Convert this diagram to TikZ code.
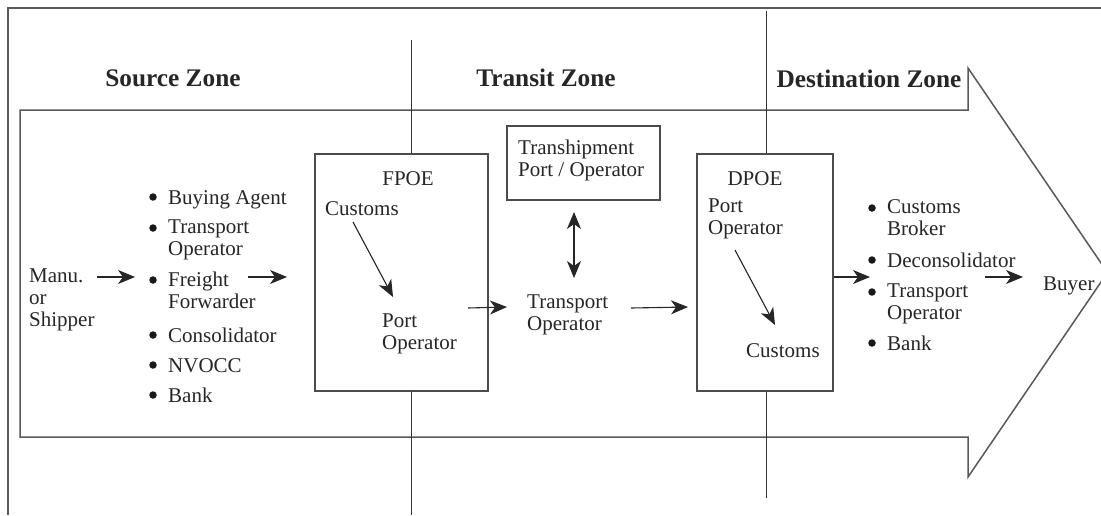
\documentclass[tikz,border=0pt]{standalone}
\usepackage{fontspec}
\setmainfont{Liberation Serif}
\usetikzlibrary{arrows.meta}
\newcommand\regsize{\fontsize{21}{22}\selectfont}
\newcommand\zonesize{\fontsize{25.3}{28}\selectfont\bfseries}
\begin{document}
\begin{tikzpicture}[x=1pt,y=-1pt,
  txt/.style={font=\regsize, inner sep=0pt, align=left, anchor=north west,
              execute at begin node=\strut, text=black!85},
  btxt/.style={font=\regsize, inner sep=0pt, anchor=base west, text=black!85},
  ctxt/.style={font=\regsize, inner sep=0pt, anchor=base, text=black!85},
  zone/.style={font=\zonesize, inner sep=0pt, anchor=base, text=black!85},
  box/.style={draw=black!70, line width=1.4pt, inner sep=0pt},
  frame/.style={draw=black!65, line width=1.5pt},
  zline/.style={draw=black!80, line width=1pt},
  bullet/.style={circle, fill=black!90, inner sep=0pt, minimum size=7.5pt},
  tip/.style={},
  arr/.style={-{Stealth[length=17pt,width=14pt,inset=5pt]}, line width=1.1pt, draw=black!85},
  darr/.style={{Stealth[length=17pt,width=14pt,inset=5pt]}-{Stealth[length=17pt,width=14pt,inset=5pt]}, line width=1.1pt, draw=black!85}]
\useasboundingbox (0,0) rectangle (1101,515);
\clip (0,0) rectangle (1101,515);
\fill[white] (0,0) rectangle (1101,515);

% outer frame
\coordinate (fbl) at (8,515);
\coordinate (ftl) at (8,8);
\coordinate (ftr) at (1101,8);
\draw[frame] (fbl) -- (ftl) -- (ftr);

% big arrow
\draw[frame, line join=miter] (20,110) -- (968,110) -- (968,68) -- (1107.5,272.5)
   -- (968,477) -- (968,437) -- (20,437) -- cycle;

% boxes
\node[box, minimum width=173pt, minimum height=237pt] (fpoe) at (401.5,272.5) {};
\node[box, minimum width=136pt, minimum height=237pt] (dpoe) at (765,272.5) {};
\node[box, minimum width=153pt, minimum height=74pt] (trans) at (583.5,163) {};

% zone lines
\coordinate (z1a) at (411,40);
\coordinate (z1b) at (411,515);
\coordinate (z2a) at (766,11);
\coordinate (z2b) at (766,498);
\draw[zline] (z1a) -- (z1a |- fpoe.north);
\draw[zline] (z1a |- fpoe.south) -- (z1b);
\draw[zline] (z2a) -- (z2a |- dpoe.north);
\draw[zline] (z2a |- dpoe.south) -- (z2b);

% zone titles
\node[zone] (szone) at (173,86) {Source Zone};
\node[zone] (tzone) at (546,86) {Transit Zone};
\node[zone] (dzone) at (869,87) {Destination Zone};

% source side
\node[txt] (manu) at (29,268.6) {Manu.\\or\\Shipper};
\node[txt] (s1) at (168,188.6) {Buying Agent};
\node[txt] (s2) at (168,219.6) {Transport\\Operator};
\node[txt] (s3) at (168,271.6) {Freight\\Forwarder};
\node[txt] (s4) at (168,326.6) {Consolidator};
\node[txt] (s5) at (168,356.6) {NVOCC};
\node[txt] (s6) at (168,386.6) {Bank};
\node[bullet] (sb1) at (153,197) {};
\node[bullet] (sb2) at (153,228) {};
\node[bullet] (sb3) at (153,280) {};
\node[bullet] (sb4) at (153,335) {};
\node[bullet] (sb5) at (153,365) {};
\node[bullet] (sb6) at (153,395) {};

% FPOE contents
\node[ctxt] (fpoet) at (408,185) {FPOE};
\node[btxt] (fcus) at (325,215) {Customs};
\node[txt] (fport) at (382,313.6) {Port\\Operator};

% transit
\node[txt] (tship) at (518,139.6) {Transhipment\\Port / Operator};
\node[txt] (top) at (527,294.6) {Transport\\Operator};

% DPOE contents
\node[ctxt] (dpoet) at (755,185) {DPOE};
\node[txt] (dport) at (708,198.6) {Port\\Operator};
\node[btxt] (dcus) at (746,357) {Customs};

% destination side
\node[txt] (d1) at (887,199.6) {Customs\\Broker};
\node[txt] (d2) at (887,251.6) {Deconsolidator};
\node[txt] (d3) at (887,283.6) {Transport\\Operator};
\node[txt] (d4) at (887,334.6) {Bank};
\node[bullet] (db1) at (872,208) {};
\node[bullet] (db2) at (872,260) {};
\node[bullet] (db3) at (872,292) {};
\node[bullet] (db4) at (872,343) {};
\node[btxt] (buyer) at (1043,290) {Buyer};

% arrows
\coordinate (a1s) at (97,277);   \coordinate (a1e) at (135,277);
\coordinate (a2s) at (248,277);  \coordinate (a2e) at (287,277);
\coordinate (a3s) at (353,222);  \coordinate (a3e) at (393,297);
\coordinate (a4s) at (468,308);  \coordinate (a4e) at (507,307);
\coordinate (a5s) at (574,212);  \coordinate (a5e) at (574,278);
\coordinate (a6s) at (631,308);  \coordinate (a6e) at (688,307);
\coordinate (a7s) at (735,250);  \coordinate (a7e) at (775,325);
\coordinate (a8e) at (870,277);
\coordinate (a9s) at (985,277);  \coordinate (a9e) at (1023,277);
\draw[arr] (a1s) -- (a1e);
\draw[arr] (a2s) -- (a2e);
\draw[arr] (a3s) -- (a3e);
\draw[arr] (a4s) -- (a4e);
\draw[darr] (a5s) -- (a5e);
\draw[arr] (a6s) -- (a6e);
\draw[arr] (a7s) -- (a7e);
\draw[arr] (dpoe.east |- a8e) -- (a8e);
\draw[arr] (a9s) -- (a9e);
\end{tikzpicture}
\end{document}
